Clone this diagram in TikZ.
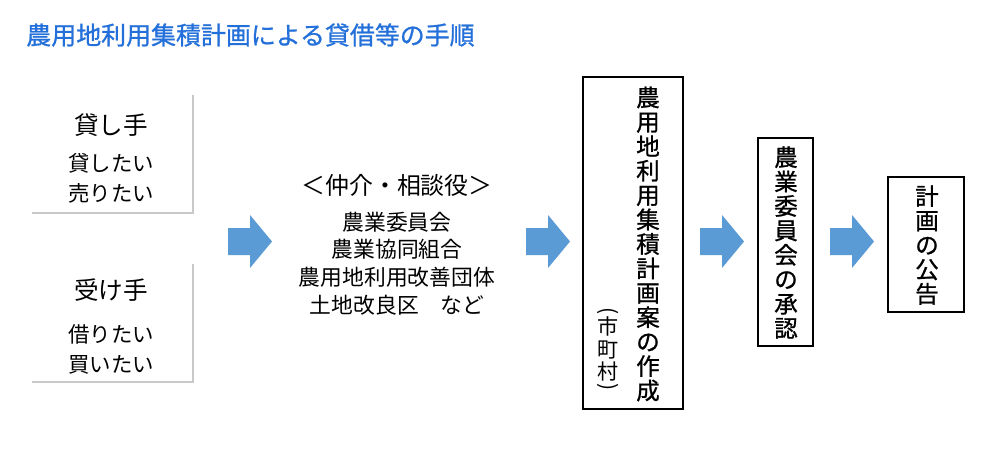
\documentclass[tikz,border=0pt]{standalone}
\usepackage{fontspec}
\newfontfamily\jp{Noto Sans CJK JP}
\newfontfamily\jpm[FakeBold=0.9]{Noto Sans CJK JP}
\usetikzlibrary{shadows}
\definecolor{titleblue}{RGB}{35,112,218}
\definecolor{arrowblue}{RGB}{91,155,213}
\tikzset{
  sidebox/.style={fill=white, inner sep=0pt, minimum width=3.24cm, minimum height=2.38cm,
    drop shadow={shadow xshift=1.2pt, shadow yshift=-1.2pt, fill=black!35, opacity=0.6}},
  framebox/.style={draw=black, line width=0.7pt, fill=white, inner sep=0pt},
  vtext/.style={font=\jpm\fontsize{13.4}{13.9}\selectfont, align=center, inner sep=0pt},
  htitle/.style={font=\jp\fontsize{14}{16}\selectfont, inner sep=0pt},
  hsub/.style={font=\jp\fontsize{12.2}{17}\selectfont, align=center, inner sep=0pt},
  midtext/.style={font=\jp\fontsize{12.4}{15.7}\selectfont, align=center, inner sep=0pt},
  paren/.style={font=\jp\fontsize{12}{12}\selectfont, rotate=-90, inner sep=0pt},
}
\newcommand\blkarrow[1]{\fill[arrowblue] (#1,228) -- ++(22,0) -- ++(0,-13) -- ++(22,26.5) -- ++(-22,26.5) -- ++(0,-13) -- ++(-22,0) -- cycle;}
\begin{document}
\begin{tikzpicture}[x=0.02cm,y=-0.02cm]
\useasboundingbox[fill=white] (0,0) rectangle (1000,463);
% title
\node[font=\jpm\fontsize{14.2}{16}\selectfont, text=titleblue, anchor=west, inner sep=0pt] (title) at (26,35) {農用地利用集積計画による貸借等の手順};
% left boxes
\node[sidebox] (lender) at (111,152.5) {};
\node[htitle] (lenderT) at (111,125) {貸し手};
\node[hsub] (lenderS) at (111,178) {貸したい\\売りたい};
\node[sidebox] (borrower) at (111,321.5) {};
\node[htitle] (borrowerT) at (111,290) {受け手};
\node[hsub] (borrowerS) at (111,349) {借りたい\\買いたい};
% arrows
\blkarrow{228}
\blkarrow{526}
\blkarrow{700}
\blkarrow{830}
% middle
\node[font=\jp\fontsize{13.6}{16}\selectfont, inner sep=0pt] (mediator) at (397,185) {＜仲介・相談役＞};
\node[midtext] (orgs) at (397,263.5) {農業委員会\\農業協同組合\\農用地利用改善団体\\土地改良区　など};
% big box
\node[framebox, minimum width=2cm, minimum height=6.64cm] (plan) at (633,243) {};
\node[vtext] (planT) at (648,244) {農\\用\\地\\利\\用\\集\\積\\計\\画\\案\\の\\作\\成};
\node[paren] (p1) at (608,311) {(};
\node[vtext, font=\jp\fontsize{12}{12.8}\selectfont] (city) at (608,349) {市\\町\\村};
\node[paren] (p2) at (608,387) {)};
% approval box
\node[framebox, minimum width=1.1cm, minimum height=4.16cm] (appr) at (785.5,242) {};
\node[vtext] (apprT) at (786,242.5) {農\\業\\委\\員\\会\\の\\承\\認};
% notice box
\node[framebox, minimum width=1.52cm, minimum height=2.7cm] (notice) at (926,244.5) {};
\node[vtext] (noticeT) at (927,245) {計\\画\\の\\公\\告};
\end{tikzpicture}
\end{document}
